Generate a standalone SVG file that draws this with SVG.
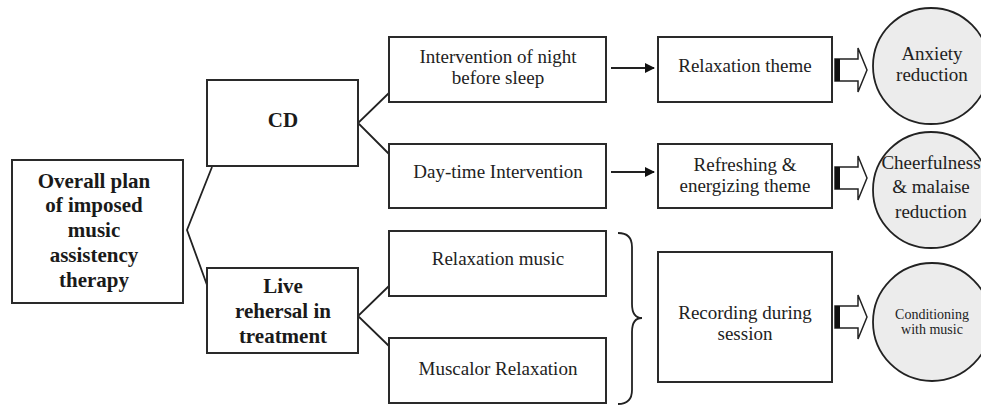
<svg xmlns="http://www.w3.org/2000/svg" width="981" height="405" viewBox="0 0 981 405">
<defs>
<style>
.box{fill:#fff;stroke:#2a2a2a;stroke-width:2}
.circ{fill:#ececec;stroke:#222;stroke-width:1.8}
.ln{fill:none;stroke:#222;stroke-width:1.8}
text{font-family:'Liberation Serif','Tinos','Times New Roman','DejaVu Serif',serif}
.t{font-size:19px;fill:#222;text-anchor:middle}
.b{font-size:21px;font-weight:bold;fill:#1a1a1a;text-anchor:middle}
.s{font-size:14px;fill:#222;text-anchor:middle}
.blk{fill:#fff;stroke:#222;stroke-width:1.5}
</style>
<marker id="ah" markerWidth="10" markerHeight="10" refX="9" refY="5" orient="auto" markerUnits="userSpaceOnUse"><path d="M0,0 L10,5 L0,10 Z" fill="#111"/></marker>
</defs>
<rect width="981" height="405" fill="#fff"/>
<g id="connectors">
<polyline class="ln" points="212,167 187,230 207,285"/>
<polyline class="ln" points="390,92 358,123 390,155"/>
<polyline class="ln" points="390,285 358,316 390,347"/>
<line class="ln" x1="611" y1="68" x2="654" y2="68" marker-end="url(#ah)"/>
<line class="ln" x1="611" y1="172" x2="654" y2="172" marker-end="url(#ah)"/>
<path class="ln" d="M618,233 Q632,233 632,247 L632,304 Q632,318 642,318 Q632,318 632,332 L632,390 Q632,404 618,404"/>
<g id="block1">
<polygon class="blk" points="835,59 858,59 858,48 867,70 858,92 858,81 835,81"/>
<rect x="835" y="59" width="5" height="22" fill="#111"/>
</g>
<g id="block2">
<polygon class="blk" points="835,167 858,167 858,156 867,178 858,200 858,189 835,189"/>
<rect x="835" y="167" width="5" height="22" fill="#111"/>
</g>
<g id="block3">
<polygon class="blk" points="835,306 858,306 858,295 867,317 858,339 858,328 835,328"/>
<rect x="835" y="306" width="5" height="22" fill="#111"/>
</g>
</g>
<g id="overall">
<rect class="box" x="12" y="160" width="171" height="143"/>
<text class="b" x="94" y="188" font-family="Liberation Serif, DejaVu Serif, serif">Overall plan</text>
<text class="b" x="94" y="212">of imposed</text>
<text class="b" x="94" y="237">music</text>
<text class="b" x="94" y="262">assistency</text>
<text class="b" x="94" y="287">therapy</text>
</g>
<g id="cd">
<rect class="box" x="207" y="80" width="151" height="86"/>
<text class="b" x="283" y="127">CD</text>
</g>
<g id="live">
<rect class="box" x="207" y="268" width="151" height="85"/>
<text class="b" x="283" y="293">Live</text>
<text class="b" x="283" y="318">rehersal in</text>
<text class="b" x="283" y="343">treatment</text>
</g>
<g id="night">
<rect class="box" x="389" y="37" width="217" height="65"/>
<text class="t" x="498" y="63">Intervention of night</text>
<text class="t" x="498" y="84">before sleep</text>
</g>
<g id="daytime">
<rect class="box" x="389" y="144" width="217" height="64"/>
<text class="t" x="498" y="178">Day-time Intervention</text>
</g>
<g id="relaxmusic">
<rect class="box" x="389" y="231" width="217" height="65"/>
<text class="t" x="498" y="265">Relaxation music</text>
</g>
<g id="muscalor">
<rect class="box" x="389" y="338" width="217" height="65"/>
<text class="t" x="498" y="375">Muscalor Relaxation</text>
</g>
<g id="relaxtheme">
<rect class="box" x="658" y="37" width="174" height="65"/>
<text class="t" x="745" y="72">Relaxation theme</text>
</g>
<g id="refresh">
<rect class="box" x="658" y="144" width="174" height="64"/>
<text class="t" x="745" y="171">Refreshing &amp;</text>
<text class="t" x="745" y="192">energizing theme</text>
</g>
<g id="recording">
<rect class="box" x="658" y="252" width="174" height="130"/>
<text class="t" x="745" y="319">Recording during</text>
<text class="t" x="745" y="340">session</text>
</g>
<g id="anxiety">
<circle class="circ" cx="931" cy="66" r="58"/>
<text class="t" x="932" y="60">Anxiety</text>
<text class="t" x="932" y="81">reduction</text>
</g>
<g id="cheer">
<circle class="circ" cx="931" cy="190" r="58"/>
<text class="t" x="931" y="169">Cheerfulness</text>
<text class="t" x="931" y="193">&amp; malaise</text>
<text class="t" x="931" y="218">reduction</text>
</g>
<g id="conditioning">
<circle class="circ" cx="932" cy="322" r="59"/>
<text class="s" x="932" y="319">Conditioning</text>
<text class="s" x="932" y="334">with music</text>
</g>
</svg>
